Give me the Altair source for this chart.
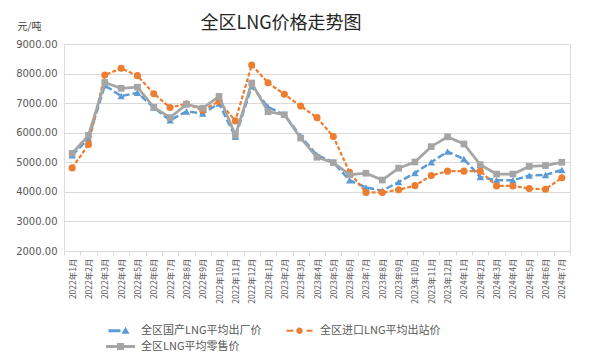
import altair as alt
import pandas as pd

months = [
    "2022年1月", "2022年2月", "2022年3月", "2022年4月", "2022年5月", "2022年6月",
    "2022年7月", "2022年8月", "2022年9月", "2022年10月", "2022年11月", "2022年12月",
    "2023年1月", "2023年2月", "2023年3月", "2023年4月", "2023年5月", "2023年6月",
    "2023年7月", "2023年8月", "2023年9月", "2023年10月", "2023年11月", "2023年12月",
    "2024年1月", "2024年2月", "2024年3月", "2024年4月", "2024年5月", "2024年6月",
    "2024年7月",
]

domestic = [5240, 5800, 7600, 7240, 7350, 6850, 6420, 6720, 6650, 6990, 5860, 7570,
            6870, 6610, 5880, 5240, 5000, 4390, 4150, 4040, 4330, 4640, 5000, 5360,
            5110, 4500, 4390, 4390, 4550, 4570, 4740]

imported = [4810, 5600, 7950, 8180, 7930, 7320, 6850, 6980, 6760, 7060, 6400, 8290,
            7690, 7300, 6900, 6510, 5870, 4660, 3980, 3980, 4070, 4210, 4550, 4700,
            4700, 4700, 4200, 4200, 4110, 4090, 4480]

retail = [5300, 5910, 7700, 7500, 7540, 6860, 6510, 6960, 6830, 7230, 5920, 7680,
          6710, 6610, 5820, 5170, 4990, 4580, 4630, 4400, 4800, 5010, 5530, 5860,
          5620, 4920, 4600, 4600, 4860, 4890, 5000]

series_names = ["全区国产LNG平均出厂价", "全区进口LNG平均出站价", "全区LNG平均零售价"]
y_ticks = [2000, 3000, 4000, 5000, 6000, 7000, 8000, 9000]

rows = []
for name, vals in zip(series_names, [domestic, imported, retail]):
    for m, v in zip(months, vals):
        rows.append({"月份": m, "价格": v, "系列": name})
df = pd.DataFrame(rows)

colors = ["#5B9BD5", "#ED7D31", "#A5A5A5"]
dashes = [[7, 3], [4, 2], [1, 0]]
widths = [2.5, 2.2, 2.75]
shapes = ["triangle-up", "circle", "square"]
sizes = [55, 50, 45]

legend_paths = [
    "M-2.4,-0.28H0V0.28H-2.4Z M0.2,0.6L1.0,-0.8L1.8,0.6Z",
    "M-2.6,-0.22H-1.2V0.22H-2.6Z M-0.65,0A0.65,0.65 0 1,1 0.65,0A0.65,0.65 0 1,1 -0.65,0Z M1.4,-0.22H2.6V0.22H1.4Z",
    "M-2.9,-0.28H2.9V0.28H-2.9Z M-0.7,-0.7H0.7V0.7H-0.7Z",
]

cjk = "Noto Sans CJK SC"
grey_txt = "#595959"

x_enc = alt.X(
    "月份:O",
    sort=months,
    bandPosition=0.5,
    scale=alt.Scale(type="band", paddingInner=0, paddingOuter=0),
    axis=alt.Axis(
        title=None,
        labelAngle=-90,
        labelAlign="right",
        labelBaseline="middle",
        labelFont=cjk,
        labelFontSize=8.5,
        labelColor=grey_txt,
        labelPadding=3,
        tickBand="extent",
        tickColor="#d9d9d9",
        tickSize=4,
        domainColor="#d9d9d9",
        grid=False,
    ),
)

y_enc = alt.Y(
    "价格:Q",
    scale=alt.Scale(domain=[2000, 9000], nice=False, zero=False),
    axis=alt.Axis(
        values=y_ticks,
        format=".2f",
        title="元/吨",
        titleAngle=0,
        titleAlign="left",
        titleBaseline="middle",
        titleX=-47,
        titleY=-18,
        titleFont=cjk,
        titleFontSize=10,
        titleFontWeight="normal",
        titleColor="#404040",
        labelFont="DejaVu Sans",
        labelFontSize=10,
        labelColor=grey_txt,
        labelPadding=7,
        domain=False,
        ticks=False,
        gridColor="#d9d9d9",
        gridWidth=1,
    ),
)

layers = []
for i, name in enumerate(series_names):
    sub = alt.Chart(df).transform_filter(alt.datum["系列"] == name)
    line = sub.mark_line(
        color=colors[i], strokeWidth=widths[i], strokeDash=dashes[i]
    ).encode(x=x_enc, y=y_enc)
    pts = sub.mark_point(
        filled=True, color=colors[i], size=sizes[i], shape=shapes[i], opacity=1
    ).encode(x=x_enc, y=y_enc)
    layers += [line, pts]

# legend-only layer: no rows survive the filter, the legend comes from the explicit domains
legend_layer = alt.Chart(df).transform_filter(alt.datum["价格"] < 0).mark_point(
    filled=True, opacity=1
).encode(
    x=x_enc,
    y=y_enc,
    color=alt.Color(
        "系列:N",
        sort=series_names,
        scale=alt.Scale(domain=series_names, range=colors),
        legend=alt.Legend(
            title=None,
            orient="none",
            direction="horizontal",
            legendX=51,
            legendY=281,
            columns=2,
            columnPadding=24,
            rowPadding=4,
            labelFont=cjk,
            labelFontSize=11,
            labelColor=grey_txt,
            labelOffset=15,
            symbolSize=100,
            symbolOpacity=1,
            symbolStrokeWidth=0,
            padding=0,
        ),
    ),
    shape=alt.Shape(
        "系列:N",
        sort=series_names,
        scale=alt.Scale(domain=series_names, range=legend_paths),
    ),
)

chart = alt.layer(legend_layer, *layers).properties(
    width=506,
    height=207,
    autosize=alt.AutoSizeParams(type="none"),
    padding={"left": 56, "top": 36, "right": 12, "bottom": 100},
    title=alt.Title(
        "全区LNG价格走势图",
        font=cjk,
        fontSize=18,
        fontWeight="normal",
        color="#262626",
        anchor="middle",
        dx=-36,
        offset=-12,
    ),
).configure_view(stroke=None).configure(background="white")

chart.save("out.html", embed_options={"renderer": "svg", "actions": False})
